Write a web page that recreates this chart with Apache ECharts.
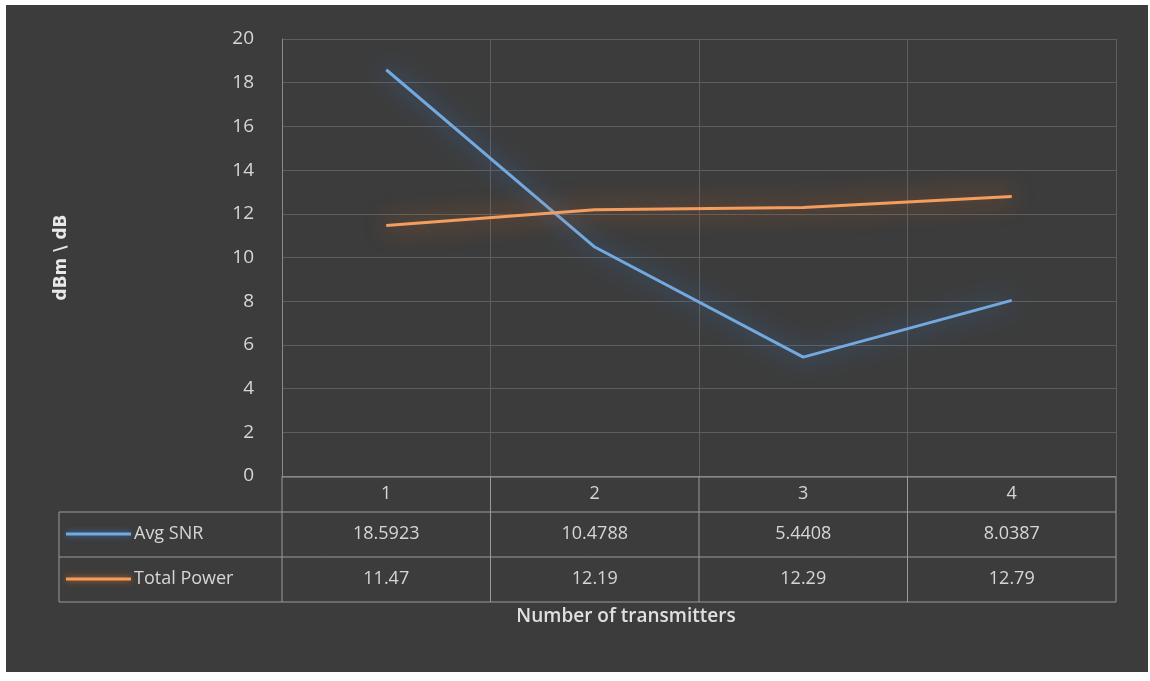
<!DOCTYPE html>
<html><head><meta charset="utf-8">
<script src="https://cdn.jsdelivr.net/npm/echarts@6/dist/echarts.min.js"></script>
<style>
html,body{margin:0;padding:0;background:#fff;width:1150px;height:681px;overflow:hidden}
#bg{position:absolute;left:6px;top:5px;width:1142px;height:667px;background:#3c3c3c}
#c{position:absolute;left:0;top:0;width:1150px;height:681px}
</style></head><body>
<div id="bg"></div><div id="c"></div>
<script>
const categories = ['1','2','3','4'];
const avgSNR = [18.5923, 10.4788, 5.4408, 8.0387];
const totalPower = [11.47, 12.19, 12.29, 12.79];
const seriesNames = ['Avg SNR', 'Total Power'];
const yTicks = [0,2,4,6,8,10,12,14,16,18,20];

const FONT = '"Liberation Sans Narrow","Open Sans",sans-serif';
const TXT = '#d6d6d6';
const GRID = '#5e5e5e';
const blue = '#72a9de', orange = '#f39d5e';

const chart = echarts.init(document.getElementById('c'), null, {renderer:'canvas'});
const G = {left:282, right:34, top:39, bottom:205};

chart.setOption({
  backgroundColor:'transparent',
  animation:false,
  grid:G,
  xAxis:{
    type:'category', data:categories, boundaryGap:true,
    axisLine:{show:true, lineStyle:{color:'#8a8a8a', width:1}},
    axisTick:{show:false},
    splitLine:{show:true, lineStyle:{color:GRID, width:1}},
    axisLabel:{
      margin:0, interval:0, fontFamily:FONT, color:TXT,
      formatter:function(v, i){
        return '{h|'+v+'}\n{s|'+avgSNR[i]+'}\n{p|'+totalPower[i]+'}';
      },
      rich:{
        h:{fontSize:18, lineHeight:35, color:TXT, fontFamily:FONT},
        s:{fontSize:18, lineHeight:45, color:TXT, fontFamily:FONT},
        p:{fontSize:18, lineHeight:45, color:TXT, fontFamily:FONT}
      }
    }
  },
  yAxis:{
    type:'value', min:0, max:20, interval:2,
    name:'dBm \\ dB', nameLocation:'middle', nameRotate:90, nameGap:212,
    nameTextStyle:{color:'#e8e8e8', fontSize:17, fontWeight:'bold', fontFamily:'"DejaVu Sans",sans-serif'},
    axisLine:{show:true, lineStyle:{color:'#8a8a8a'}},
    axisTick:{show:false},
    axisLabel:{margin:28, color:TXT, fontSize:19, fontFamily:FONT,
      formatter:function(v){return yTicks.indexOf(v)>=0? String(v):'';}},
    splitLine:{show:true, lineStyle:{color:GRID, width:1}}
  },
  series:[
    {name:seriesNames[0], type:'line', data:avgSNR, symbol:'none', z:3,
      lineStyle:{color:blue, width:3, shadowBlur:24, shadowColor:'rgba(60,130,220,1)'}},
    {name:seriesNames[1], type:'line', data:totalPower, symbol:'none', z:4,
      lineStyle:{color:orange, width:3, shadowBlur:24, shadowColor:'rgba(230,110,30,1)'}}
  ]
});

const x0 = chart.convertToPixel({xAxisIndex:0}, 0) ;
const x1 = chart.convertToPixel({xAxisIndex:0}, 1);
const step = x1 - x0;
const gl = x0 - step/2, gr = gl + step*categories.length;
const yb = chart.convertToPixel({yAxisIndex:0}, 0);
const rowTop = yb + 1, r1 = rowTop + 35, r2 = r1 + 45, r3 = r2 + 45;
const leftCol = 59;
const lc = '#9a9a9a';
const els = [];
function L(xa,ya,xb,yb2){els.push({type:'line', shape:{x1:xa,y1:ya,x2:xb,y2:yb2}, style:{stroke:lc, lineWidth:1}, silent:true});}
L(gl,rowTop,gr,rowTop);
L(leftCol,r1,gr,r1); L(leftCol,r2,gr,r2); L(leftCol,r3,gr,r3);
L(leftCol,r1,leftCol,r3);
for(let i=0;i<=categories.length;i++){ const x=gl+step*i; L(x,rowTop,x,r3); }
const keys = [[blue,'rgba(60,130,220,0.8)'],[orange,'rgba(230,110,30,0.9)']];
[r1,r2].forEach(function(top,i){
  const cy = top + 22;
  els.push({type:'line', shape:{x1:66,y1:cy,x2:131,y2:cy}, style:{stroke:keys[i][0], lineWidth:3, shadowBlur:6, shadowColor:keys[i][1]}});
  els.push({type:'text', x:134, y:cy, style:{text:seriesNames[i], fill:TXT, font:'18px '+FONT, textVerticalAlign:'middle', verticalAlign:'middle'}});
});
els.push({type:'text', x:626, y:617, style:{text:'Number of transmitters', fill:'#e0e0e0', font:'600 19px '+FONT, textAlign:'center', align:'center', textVerticalAlign:'middle', verticalAlign:'middle'}});
chart.setOption({graphic:{elements:els}});
</script></body></html>
